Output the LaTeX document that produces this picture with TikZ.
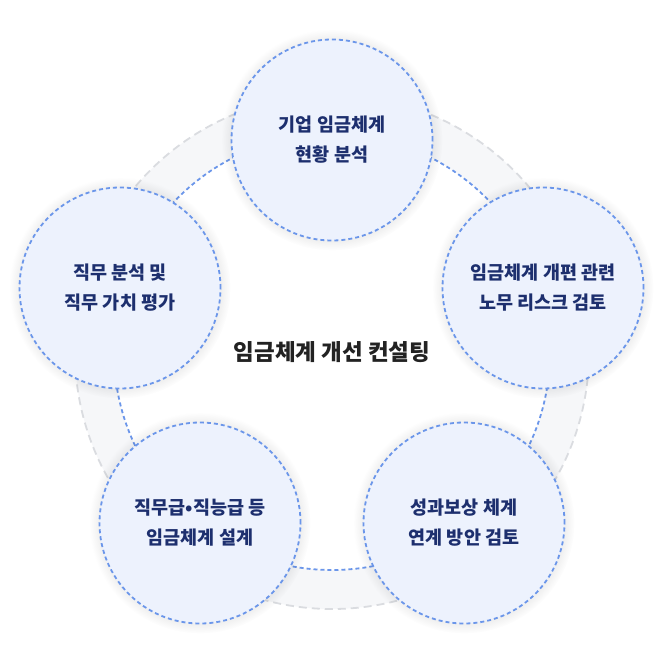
\documentclass[tikz,border=0pt]{standalone}
\usepackage{fontspec}
\setmainfont{Noto Sans CJK KR}
\usetikzlibrary{shadows}
\definecolor{ringgray}{HTML}{F6F7F9}
\definecolor{ringline}{HTML}{DADCE0}
\definecolor{stagefill}{HTML}{EDF2FD}
\definecolor{stageline}{HTML}{6B96EA}
\definecolor{stagetext}{HTML}{1D2F6E}
\definecolor{maintext}{HTML}{222222}
\begin{document}
\begin{tikzpicture}[x=1pt, y=-1pt,
  stage/.style={shape=circle, fill=stagefill, draw=stageline, line width=1.8pt,
    dash pattern=on 4pt off 3pt, minimum size=201pt, inner sep=0pt, align=center,
    text=stagetext, font=\fontsize{18.5}{30}\selectfont\bfseries,
    circular glow={fill=black, opacity=0.10, shadow scale=1.1}},
  ringedge/.style={ringline, line width=1.8pt, dash pattern=on 8pt off 5pt},
  ringinner/.style={stageline, line width=1.8pt, dash pattern=on 4pt off 3pt}]
\useasboundingbox (0,0) rectangle (664,664);
\coordinate (O) at (332,352);
% ring behind the stages
\fill[ringgray, even odd rule] (O) circle[radius=257] (O) circle[radius=218];
\draw[ringedge] (O) circle[radius=257];
\draw[ringinner] (O) circle[radius=218];
% stages
\node[stage] (s1) at (332,140) {기업 임금체계\\현황 분석};
\node[stage] (s2) at (543,288) {임금체계 개편 관련\\노무 리스크 검토};
\node[stage] (s3) at (464,523) {성과보상 체계\\연계 방안 검토};
\node[stage] (s4) at (200,523) {직무급•직능급 등\\임금체계 설계};
\node[stage] (s5) at (120,288) {직무 분석 및\\직무 가치 평가};
% title
\node[font=\fontsize{22.5}{26}\selectfont\bfseries, text=maintext] (title) at (O) {임금체계 개선 컨설팅};
\end{tikzpicture}
\end{document}
